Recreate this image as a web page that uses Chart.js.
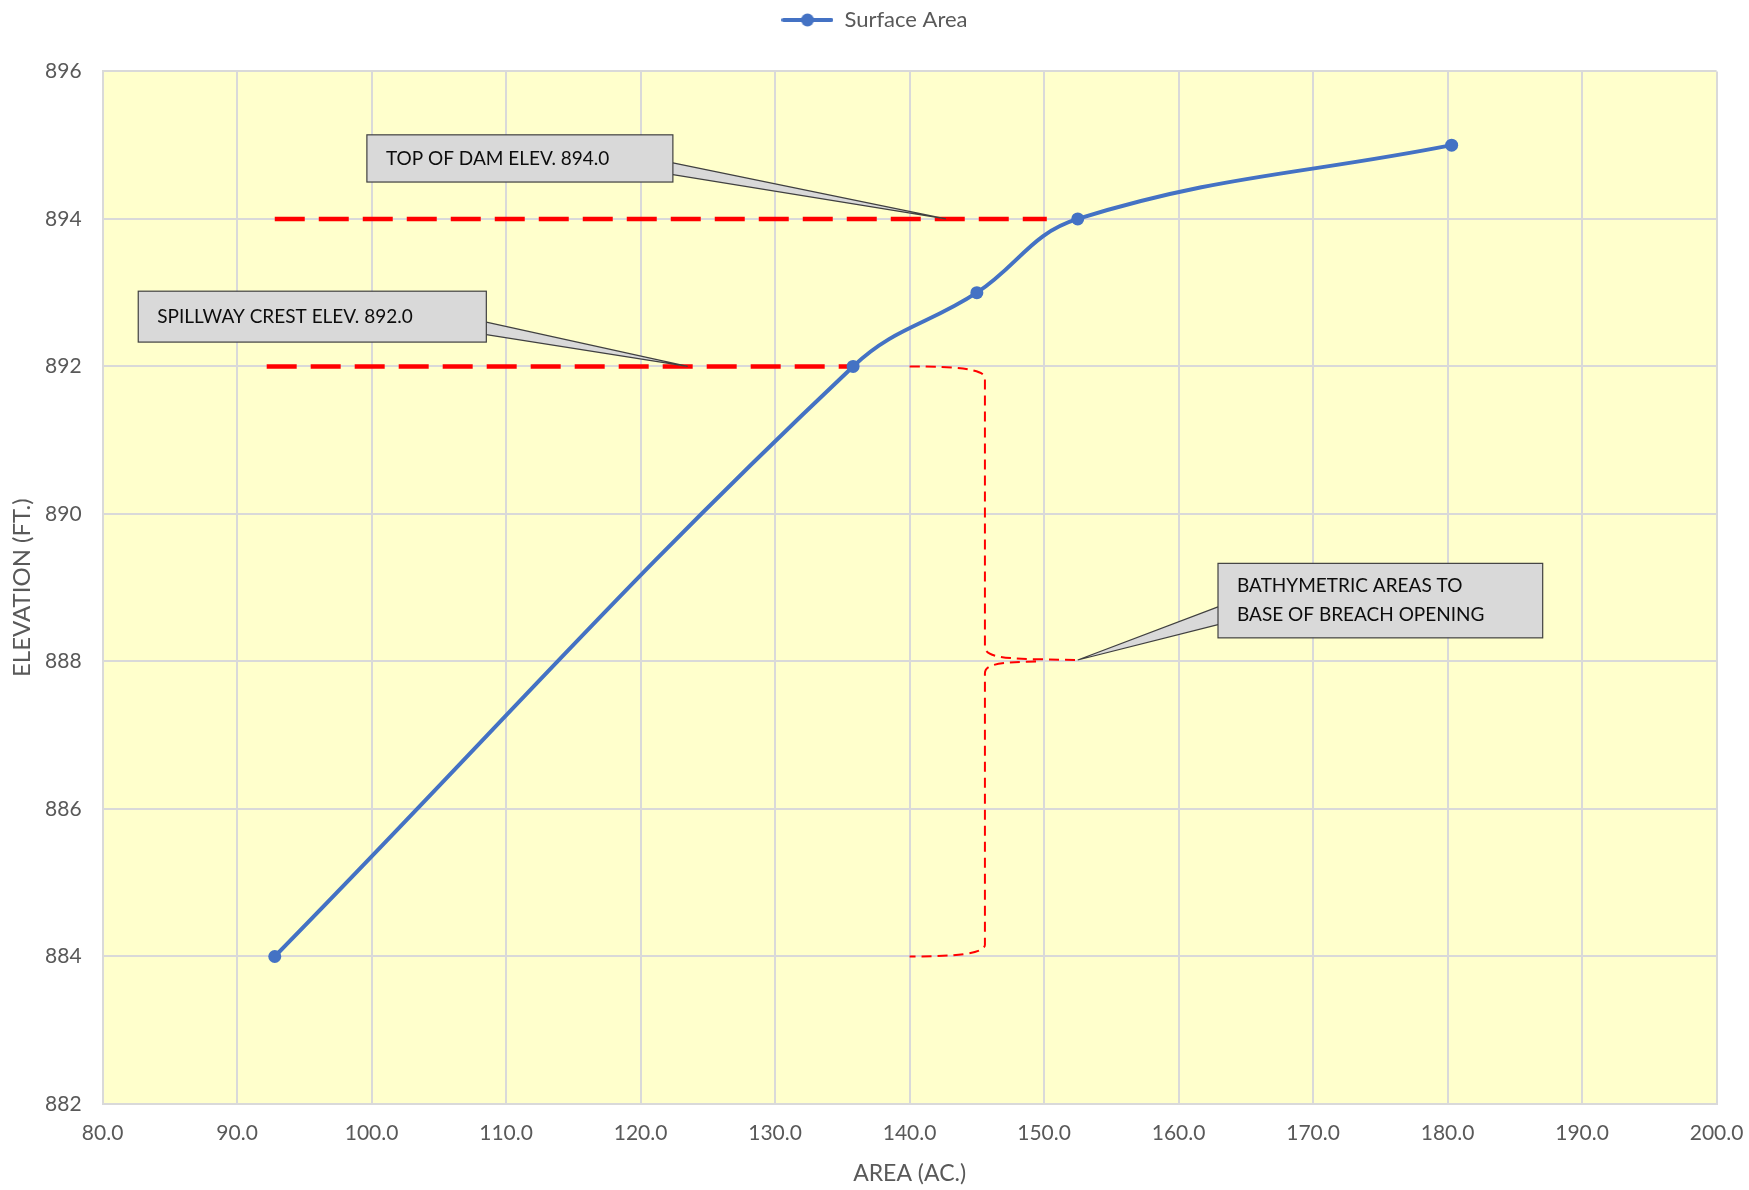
<!DOCTYPE html>
<html>
<head>
<meta charset="utf-8">
<title>Elevation - Area</title>
<script src="https://cdn.jsdelivr.net/npm/chart.js@4.4.1/dist/chart.umd.min.js"></script>
<style>
  html, body { margin: 0; padding: 0; background: #ffffff; }
  #wrap { width: 1749px; height: 1190px; }
</style>
</head>
<body>
<div id="wrap"><canvas id="chart"></canvas></div>
<script>
// surface area curve
const areaAc = [92.8, 135.8, 145.0, 152.5, 180.3];
const elevationFt = [884, 892, 893, 894, 895];

// axis ranges
const xMin = 80, xMax = 200, xStep = 10;
const yMin = 882, yMax = 896, yStep = 2;

// red dashed reference levels
const topOfDamX = [92.8, 150.2];
const topOfDamY = [894, 894];
const spillwayX = [92.2, 135.8];
const spillwayY = [892, 892];

// callouts (data units): box x range, box y range, pointer base y's, pointer tip
const calloutText = [
  ["TOP OF DAM ELEV. 894.0"],
  ["SPILLWAY CREST ELEV. 892.0"],
  ["BATHYMETRIC AREAS TO", "BASE OF BREACH OPENING"]
];
const calloutBoxX = [[99.65, 122.4], [82.65, 108.53], [162.93, 187.07]];
const calloutBoxY = [[894.50, 895.14], [892.33, 893.02], [888.32, 889.33]];
const calloutBaseY = [[894.76, 894.60], [892.60, 892.43], [888.74, 888.50]];
const calloutTip = [[142.7, 894.0], [123.5, 892.0], [152.5, 888.02]];

// bracket path (data units): M = move, C = bezier (cp1, cp2, end), L = line
const bracketPath = [
  ["M", 140.0, 892.0],
  ["C", 143.6, 892.0, 145.6, 891.96, 145.6, 891.84],
  ["L", 145.6, 888.2],
  ["C", 145.6, 888.08, 146.6, 888.04, 149.4, 888.03],
  ["L", 152.5, 888.02],
  ["M", 149.4, 888.0],
  ["C", 146.6, 887.99, 145.6, 887.96, 145.6, 887.84],
  ["L", 145.6, 884.16],
  ["C", 145.6, 884.04, 143.6, 884.0, 140.0, 884.0]
];

const BLUE = "#4472C4";
const RED = "#FF0000";
const GRID = "#d9d9d9";
const FONT = "Lato, 'Open Sans', sans-serif";

Chart.defaults.font.family = FONT;
Chart.defaults.font.size = 21;
Chart.defaults.color = "#595959";

// legend marker: line with a dot
const legendMark = document.createElement("canvas");
legendMark.width = 52;
legendMark.height = 14;
(function () {
  const c = legendMark.getContext("2d");
  c.strokeStyle = BLUE;
  c.lineWidth = 4;
  c.lineCap = "round";
  c.beginPath();
  c.moveTo(2, 7);
  c.lineTo(50, 7);
  c.stroke();
  c.fillStyle = BLUE;
  c.beginPath();
  c.arc(26, 7, 6.5, 0, Math.PI * 2);
  c.fill();
})();

const plotBackground = {
  id: "plotBackground",
  beforeDraw(chart) {
    const { ctx, chartArea: a } = chart;
    ctx.save();
    ctx.fillStyle = "#FFFFCC";
    ctx.fillRect(a.left, a.top, a.right - a.left, a.bottom - a.top);
    ctx.restore();
  }
};

// legend band as tall as the gap above the plot, centred on the whole canvas
const legendHeight = {
  id: "legendHeight",
  beforeLayout(chart) {
    const lg = chart.legend;
    if (lg && !lg._fixedFit) {
      const fit = lg.fit.bind(lg);
      lg.fit = function () { fit(); this.height = 71.4; };
      lg._fixedFit = true;
    }
  },
  afterLayout(chart) {
    const lg = chart.legend;
    if (lg) {
      lg.left = 0;
      lg.right = chart.width;
    }
  }
};

const bracket = {
  id: "bracket",
  beforeDatasetsDraw(chart) {
    const { ctx, scales: { x, y } } = chart;
    const px = v => x.getPixelForValue(v);
    const py = v => y.getPixelForValue(v);
    ctx.save();
    ctx.strokeStyle = RED;
    ctx.lineWidth = 2;
    ctx.setLineDash([10, 6]);
    ctx.beginPath();
    bracketPath.forEach(s => {
      if (s[0] === "M") ctx.moveTo(px(s[1]), py(s[2]));
      else if (s[0] === "L") ctx.lineTo(px(s[1]), py(s[2]));
      else ctx.bezierCurveTo(px(s[1]), py(s[2]), px(s[3]), py(s[4]), px(s[5]), py(s[6]));
    });
    ctx.stroke();
    ctx.restore();
  }
};

const callouts = {
  id: "callouts",
  afterDatasetsDraw(chart) {
    const { ctx, scales: { x, y } } = chart;
    ctx.save();
    calloutText.forEach((lines, i) => {
      const left = x.getPixelForValue(calloutBoxX[i][0]);
      const right = x.getPixelForValue(calloutBoxX[i][1]);
      const top = y.getPixelForValue(calloutBoxY[i][1]);
      const bottom = y.getPixelForValue(calloutBoxY[i][0]);
      const tx = x.getPixelForValue(calloutTip[i][0]);
      const ty = y.getPixelForValue(calloutTip[i][1]);
      const bx = tx > right ? right : left;
      const b1 = y.getPixelForValue(calloutBaseY[i][0]);
      const b2 = y.getPixelForValue(calloutBaseY[i][1]);

      // pointer
      ctx.fillStyle = "#d9d9d9";
      ctx.strokeStyle = "#404040";
      ctx.lineWidth = 1.2;
      ctx.beginPath();
      ctx.moveTo(bx, b1);
      ctx.lineTo(tx, ty);
      ctx.lineTo(bx, b2);
      ctx.closePath();
      ctx.fill();
      ctx.beginPath();
      ctx.moveTo(bx, b1);
      ctx.lineTo(tx, ty);
      ctx.lineTo(bx, b2);
      ctx.stroke();

      // box
      ctx.fillRect(left, top, right - left, bottom - top);
      ctx.strokeRect(left, top, right - left, bottom - top);

      // text
      ctx.fillStyle = "#0d0d0d";
      ctx.font = "19px " + FONT;
      ctx.textAlign = "left";
      ctx.textBaseline = "middle";
      const lh = 29;
      const mid = (top + bottom) / 2;
      lines.forEach((t, k) => {
        ctx.fillText(t, left + 19, mid + (k - (lines.length - 1) / 2) * lh);
      });
    });
    ctx.restore();
  }
};

const toPoints = (xs, ys) => xs.map((v, i) => ({ x: v, y: ys[i] }));

new Chart(document.getElementById("chart"), {
  type: "scatter",
  data: {
    datasets: [
      {
        label: "Surface Area",
        data: toPoints(areaAc, elevationFt),
        showLine: true,
        borderColor: BLUE,
        backgroundColor: BLUE,
        borderWidth: 4,
        pointRadius: 6.5,
        pointBorderWidth: 0,
        pointHoverRadius: 6.5,
        tension: 0.4
      },
      {
        label: "Top of Dam",
        data: toPoints(topOfDamX, topOfDamY),
        showLine: true,
        borderColor: RED,
        borderWidth: 4.5,
        borderDash: [30, 14],
        pointRadius: 0
      },
      {
        label: "Spillway Crest",
        data: toPoints(spillwayX, spillwayY),
        showLine: true,
        borderColor: RED,
        borderWidth: 4.5,
        borderDash: [30, 14],
        pointRadius: 0
      }
    ]
  },
  options: {
    responsive: true,
    maintainAspectRatio: false,
    animation: false,
    layout: { padding: { left: 0, right: 32.4, top: 0, bottom: 0 } },
    plugins: {
      legend: {
        position: "top",
        labels: {
          usePointStyle: true,
          pointStyle: legendMark,
          pointStyleWidth: 52,
          padding: 9,
          color: "#595959",
          font: { size: 22 },
          filter: item => item.datasetIndex === 0
        }
      },
      tooltip: { enabled: false }
    },
    scales: {
      x: {
        type: "linear",
        min: xMin,
        max: xMax,
        afterFit: s => {
          s.height = 86;
          s.paddingLeft = 0;
          s.paddingRight = 0;
        },
        ticks: {
          stepSize: xStep,
          padding: 17,
          callback: v => v.toFixed(1)
        },
        grid: { color: GRID, lineWidth: 2, drawTicks: false },
        border: { color: GRID, width: 2 },
        title: {
          display: true,
          text: "AREA (AC.)",
          padding: { top: 0, bottom: 3 },
          font: { size: 23 }
        }
      },
      y: {
        type: "linear",
        min: yMin,
        max: yMax,
        afterFit: s => {
          s.width = 102.6;
          s.paddingTop = 0;
          s.paddingBottom = 0;
        },
        ticks: {
          stepSize: yStep,
          padding: 21,
          callback: v => String(v)
        },
        grid: { color: GRID, lineWidth: 2, drawTicks: false },
        border: { color: GRID, width: 2 },
        title: {
          display: true,
          text: "ELEVATION (FT.)",
          padding: { top: 8, bottom: 0 },
          font: { size: 24 }
        }
      }
    }
  },
  plugins: [plotBackground, legendHeight, bracket, callouts]
});
</script>
</body>
</html>
